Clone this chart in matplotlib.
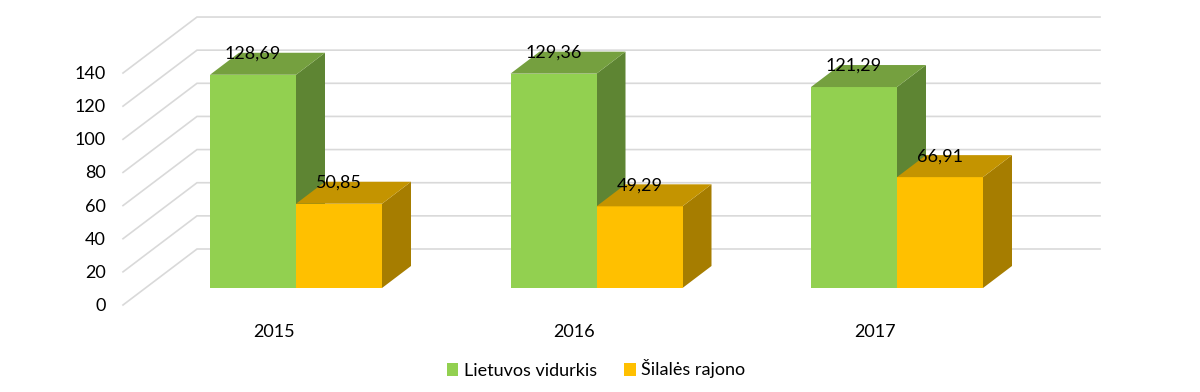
import matplotlib
matplotlib.use("Agg")
import matplotlib.pyplot as plt
from matplotlib.patches import Polygon, Patch

years = ["2015", "2016", "2017"]
vidurkis = [128.69, 129.36, 121.29]
silale = [50.85, 49.29, 66.91]
vid_labels = ["128,69", "129,36", "121,29"]
sil_labels = ["50,85", "49,29", "66,91"]
y_ticks = [0, 20, 40, 60, 80, 100, 120, 140]

plt.rcParams['font.family'] = ['Lato', 'DejaVu Sans']

# 1 category = 300.5 px, 1 value unit = 1.657 px
px_x = 300.5
px_y = 1.657
W, H = 1200, 392
bar_w = 86 / px_x
dx = 29 / px_x
dy = 22 / px_y
text_nudge = 1 / px_y

fig = plt.figure(figsize=(W / 100, H / 100), dpi=100)
ax = fig.add_axes([0, 0, 1, 1])
ax.set_xlim(-296 / px_x, (W - 296) / px_x)
ax.set_ylim(-(H - 288) / px_y, 288 / px_y)
ax.axis("off")

# gridlines, back wall + left side wall
x_front = -173 / px_x
x_back = -99 / px_x
x_right = 804 / px_x
grid_up = 39 / px_y
grid_down = 17 / px_y
for t in y_ticks:
    ax.plot([x_front, x_back, x_right], [t - grid_down, t + grid_up, t + grid_up],
            color="#D9D9D9", lw=1.2, zorder=1, solid_joinstyle="miter")
    ax.text(-190 / px_x, t - grid_down - text_nudge, str(t), ha="right", va="center",
            fontsize=13, color="black", zorder=5)


def box(x0, val, front, top, side):
    x1 = x0 + bar_w
    ax.add_patch(Polygon([(x0, 0), (x1, 0), (x1, val), (x0, val)], fc=front, ec="none", zorder=3))
    ax.add_patch(Polygon([(x0, val), (x1, val), (x1 + dx, val + dy), (x0 + dx, val + dy)],
                         fc=top, ec="none", zorder=3))
    ax.add_patch(Polygon([(x1, 0), (x1 + dx, dy), (x1 + dx, val + dy), (x1, val)],
                         fc=side, ec="none", zorder=2))


for i, year in enumerate(years):
    box(i - bar_w, vidurkis[i], "#92D050", "#75A03F", "#5E8533")
    box(i, silale[i], "#FFC000", "#C49400", "#A67D00")
    ax.text(i - bar_w / 2, vidurkis[i] + dy - text_nudge, vid_labels[i], ha="center", va="center",
            fontsize=13, color="black", zorder=6)
    ax.text(i + bar_w / 2, silale[i] + dy - text_nudge, sil_labels[i], ha="center", va="center",
            fontsize=13, color="black", zorder=6)
    ax.text(i - 22 / px_x, -26 - text_nudge, year, ha="center", va="center", fontsize=13, color="black")

handles = [Patch(fc="#92D050", label="Lietuvos vidurkis"), Patch(fc="#FFC000", label="Šilalės rajono")]
fig.legend(handles=handles, loc="center", bbox_to_anchor=(596 / W, 1 - 369 / H), ncol=2,
           frameon=False, fontsize=13, handlelength=0.65, handleheight=0.7,
           handletextpad=0.3, columnspacing=1.5)

fig.savefig("out.png", dpi=100)
